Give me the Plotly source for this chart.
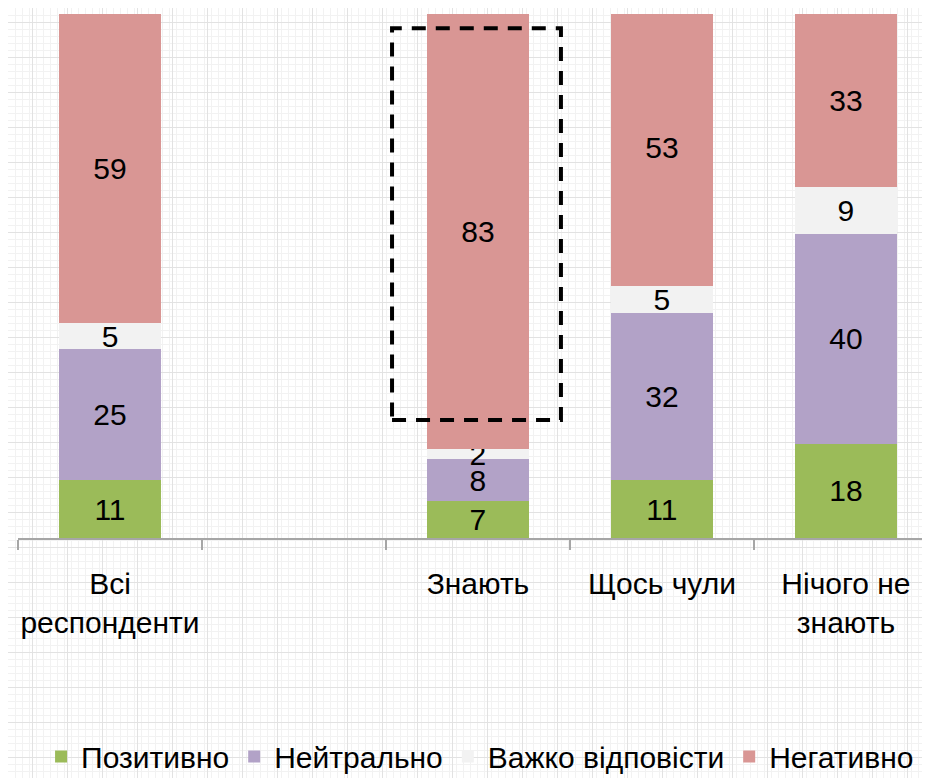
import plotly.graph_objects as go

categories = ["Всі<br>респонденти", " ", "Знають", "Щось чули", "Нічого не<br>знають"]
positive = [11, None, 7, 11, 18]
neutral = [25, None, 8, 32, 40]
hard_to_say = [5, None, 2, 5, 9]
negative = [59, None, 83, 53, 33]

series = [
    ("Позитивно", positive, "#9BBB59"),
    ("Нейтрально", neutral, "#B2A2C7"),
    ("Важко відповісти", hard_to_say, "#F2F2F2"),
    ("Негативно", negative, "#D99694"),
]

FONT = "Liberation Sans, Arial, sans-serif"
# the page body keeps its default 8px margin, so the figure is 8px smaller
W, H = 922, 770

fig = go.Figure()

# empty trace so the graph-paper background subplot gets drawn
fig.add_trace(go.Scatter(x=[], y=[], xaxis="x", yaxis="y", showlegend=False, hoverinfo="skip"))

for name, vals, color in series:
    fig.add_trace(
        go.Bar(
            x=categories,
            y=vals,
            name=name,
            marker={"color": color, "line": {"width": 0}},
            text=[("" if v is None else str(v)) for v in vals],
            textposition="inside",
            insidetextanchor="middle",
            constraintext="none",
            textangle=0,
            textfont={"family": FONT, "size": 30, "color": "black"},
            xaxis="x2",
            yaxis="y2",
        )
    )

# dashed highlight around the "Знають" negative block
fig.add_shape(
    type="rect",
    xref="x2",
    yref="y2",
    x0=1.533,
    x1=2.451,
    y0=22.5,
    y1=97.3,
    line={"color": "black", "width": 4, "dash": "14px,10px"},
    fillcolor="rgba(0,0,0,0)",
)

fig.update_layout(
    width=W,
    height=H,
    barmode="stack",
    bargap=0.446,
    paper_bgcolor="white",
    plot_bgcolor="rgba(0,0,0,0)",
    margin={"l": 0, "r": 0, "t": 0, "b": 0, "autoexpand": False},
    font={"family": FONT, "color": "black"},
    showlegend=True,
    legend={
        "orientation": "h",
        "x": 0.512,
        "xanchor": "center",
        "y": 0.028,
        "yanchor": "middle",
        "font": {"family": FONT, "size": 30, "color": "black"},
        "bgcolor": "rgba(0,0,0,0)",
        "traceorder": "normal",
        "itemwidth": 30,
    },
    # graph-paper background
    xaxis={
        "domain": [0, 1],
        "range": [0, W],
        "showgrid": True,
        "gridcolor": "#e2e2e2",
        "gridwidth": 1,
        "dtick": 35,
        "tick0": 24,
        "minor": {"showgrid": True, "dtick": 7, "gridcolor": "#f2f2f2", "gridwidth": 1},
        "showticklabels": False,
        "zeroline": False,
        "showline": False,
        "ticks": "",
        "fixedrange": True,
    },
    yaxis={
        "domain": [0, 1],
        "range": [H, 0],
        "showgrid": True,
        "gridcolor": "#e2e2e2",
        "gridwidth": 1,
        "dtick": 35,
        "tick0": 14,
        "minor": {"showgrid": True, "dtick": 7, "gridcolor": "#f2f2f2", "gridwidth": 1},
        "showticklabels": False,
        "zeroline": False,
        "showline": False,
        "ticks": "",
        "fixedrange": True,
    },
    xaxis2={
        "domain": [10 / W, 1],
        "anchor": "y2",
        "range": [-0.5, 4.457],
        "showgrid": False,
        "zeroline": False,
        "showline": True,
        "linecolor": "#a6a6a6",
        "linewidth": 2,
        "ticks": "outside",
        "tickson": "boundaries",
        "ticklen": 10,
        "tickwidth": 2,
        "tickcolor": "#a6a6a6",
        "tickangle": 0,
        "automargin": False,
        "ticklabelstandoff": 18,
        "tickfont": {"family": FONT, "size": 30, "color": "black"},
    },
    yaxis2={
        "domain": [240 / H, 764 / H],
        "anchor": "x2",
        "range": [0, 100],
        "visible": False,
        "showgrid": False,
        "zeroline": False,
    },
)

fig.write_html("out.html")
